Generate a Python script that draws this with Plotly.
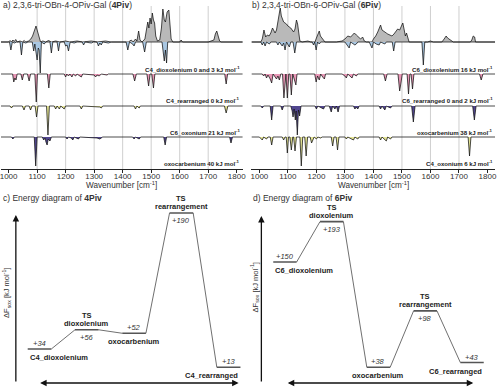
import plotly.graph_objects as go

# ---------------- data ----------------
tick_wn = [1000, 1100, 1200, 1300, 1400, 1500, 1600, 1700, 1800]
grid_wn = [1100, 1200, 1300, 1400, 1500, 1600, 1700]

# panel a: experimental IR spectrum of 4Piv (positive) and computed spectra (negative)
a_exp = [(973,0),(1000,0),(1005,1.5),(1010,0),(1015,2),(1020,0.5),(1025,2.5),(1030,0),(1040,1),(1048,0),
         (1055,1.5),(1060,0),(1070,1),(1078,3),(1084,6),(1088,10),(1092,13),(1096,16),(1100,12),(1104,7),
         (1108,2),(1112,0),(1120,1),(1130,0),(1140,1.5),(1150,0),(1165,1),(1180,0),(1200,1),(1215,0),
         (1240,1),(1260,0),(1290,1),(1310,0),(1340,1),(1360,0),(1420,0),(1430,2),(1437,0),(1445,3),
         (1450,1),(1456,11),(1461,2),(1468,0),(1478,3),(1484,12),(1488,20),(1492,14),(1496,24),(1500,18),
         (1504,29),(1508,22),(1512,19),(1516,6),(1522,1),(1530,2),(1536,14),(1541,33),(1546,22),(1550,20),
         (1556,30),(1562,32),(1566,20),(1570,3),(1576,0),(1600,0),(1605,2),(1610,0),(1700,0),(1720,2),
         (1725,8),(1730,11),(1735,6),(1740,1),(1745,0),(1830,0)]
a_dioxolenium = [(973,0),(1003,0),(1008,-8),(1013,0),(1020,-1),(1028,0),(1040,0),(1045,-13),(1050,0),(1060,-1),
                 (1068,0),(1083,0),(1088,-9),(1092,-2),(1097,-12),(1100,-18),(1104,-6),(1107,-8),(1111,-31),(1115,0),
                 (1125,-2),(1130,0),(1145,0),(1150,-11),(1155,0),(1170,0),(1175,-9),(1180,0),(1195,0),(1200,-4),
                 (1205,-3),(1210,-9),(1216,0),(1230,-1),(1240,0),(1258,0),(1263,-3),(1268,0),(1290,-1),(1298,0),
                 (1310,0),(1315,-4),(1320,-1),(1325,-3),(1330,0),(1350,-1),(1360,0),(1412,0),(1418,-8),(1424,0),
                 (1435,-2),(1440,-4),(1445,0),(1470,0),(1477,-10),(1483,0),(1538,0),(1543,-12),(1546,-19),(1550,-8),
                 (1554,-21),(1558,0),(1830,0)]
a_rearranged = [(973,0),(1014,0),(1018,-8),(1022,-4),(1026,-6),(1030,0),(1043,0),(1048,-6),(1053,0),(1066,0),
                (1072,-7),(1077,0),(1092,0),(1097,-28),(1101,0),(1136,0),(1141,-14),(1146,0),(1195,0),(1200,-3),
                (1204,0),(1210,-2),(1215,0),(1222,-3),(1227,0),(1235,-2),(1240,0),(1255,-3),(1260,0),(1300,-1),
                (1305,-3),(1310,-1),(1318,-2),(1325,0),(1345,-1),(1350,0),(1436,0),(1442,-7),(1448,0),(1485,0),
                (1491,-12),(1496,0),(1502,0),(1508,-14),(1513,0),(1758,0),(1763,-10),(1768,0),(1830,0)]
a_oxonium = [(973,0),(1005,0),(1010,-2),(1015,0),(1048,0),(1054,-4),(1059,0),(1072,0),(1077,-4),(1082,0),
             (1093,0),(1098,-11),(1103,0),(1133,0),(1138,-29),(1143,0),(1160,0),(1165,-3),(1170,0),(1178,-3),
             (1183,0),(1195,-3),(1200,0),(1250,0),(1255,-3),(1260,0),(1320,-1),(1325,-2),(1330,0),(1440,0),
             (1445,-3),(1450,0),(1458,-2),(1462,0),(1757,0),(1763,-7),(1769,0),(1830,0)]
a_oxocarbenium = [(973,0),(1010,0),(1015,-2),(1020,0),(1090,0),(1095,-29),(1100,0),(1118,0),(1123,-3),(1128,-1),
                  (1131,-5),(1135,-8),(1139,-2),(1145,-4),(1150,0),(1200,0),(1205,-2),(1210,0),(1220,-1),(1225,-3),
                  (1230,0),(1245,-2),(1250,0),(1310,-1),(1320,-2),(1330,0),(1435,0),(1440,-2),(1445,0),(1458,-2),
                  (1463,0),(1544,0),(1549,-8),(1554,0),(1775,0),(1780,-6),(1785,0),(1830,0)]

# panel b: experimental IR spectrum of 6Piv and computed spectra
b_exp = [(972,0),(1005,0),(1010,3),(1016,12),(1022,5),(1028,7),(1034,6),(1040,9),(1046,14),(1050,11),
         (1055,9),(1060,12),(1066,22),(1073,34),(1077,26),(1081,22),(1085,20),(1090,19),(1095,18),(1100,16),
         (1105,15),(1110,14),(1115,12),(1120,10),(1125,13),(1130,22),(1134,18),(1138,6),(1142,1),(1150,0),
         (1170,1),(1180,0),(1195,0),(1200,4),(1205,8),(1210,11),(1214,6),(1220,4),(1225,2),(1230,0),
         (1270,0),(1290,1),(1300,3),(1310,6),(1320,5),(1328,8),(1333,9),(1340,7),(1348,5),(1355,3),
         (1362,5),(1368,1),(1375,0),(1395,0),(1400,3),(1408,6),(1415,10),(1420,14),(1425,17),(1430,12),
         (1438,10),(1445,9),(1450,8),(1458,7),(1465,6),(1472,8),(1478,10),(1485,13),(1492,12),(1498,16),
         (1503,19),(1508,12),(1512,6),(1516,9),(1520,5),(1525,0),(1590,0),(1600,1),(1610,0),(1640,0),
         (1648,3),(1655,6),(1660,4),(1665,3),(1672,2),(1680,0),(1740,0),(1745,2),(1750,6),(1755,5),
         (1758,0),(1830,0)]
b_dioxolenium = [(972,0),(1005,0),(1010,-3),(1015,0),(1020,-4),(1025,0),(1035,-2),(1040,0),(1060,0),(1065,-3),
                 (1070,0),(1080,-4),(1085,-1),(1090,-8),(1095,0),(1100,-3),(1105,-5),(1110,0),(1118,0),(1124,-11),
                 (1130,0),(1185,0),(1190,-3),(1194,0),(1199,-8),(1204,0),(1210,-2),(1215,0),(1300,0),(1310,-4),
                 (1315,-6),(1320,0),(1330,-2),(1335,-3),(1340,-2),(1345,0),(1385,0),(1390,-3),(1395,-6),(1400,0),
                 (1410,-2),(1420,-3),(1425,0),(1440,-2),(1445,0),(1466,0),(1471,-9),(1476,0),(1570,0),(1575,-23),
                 (1580,0),(1830,0)]
b_rearranged = [(972,0),(1010,0),(1015,-2),(1020,0),(1025,-4),(1030,-1),(1038,-5),(1043,-9),(1048,0),(1055,-3),
                (1060,-5),(1065,-2),(1070,-6),(1075,0),(1081,0),(1086,-24),(1091,0),(1093,0),(1098,-24),(1103,0),
                (1107,0),(1112,-21),(1117,0),(1122,-4),(1128,-11),(1132,0),(1194,0),(1199,-8),(1204,-2),(1210,-6),
                (1215,0),(1222,-3),(1228,-5),(1232,0),(1290,0),(1300,-2),(1305,-4),(1310,0),(1318,-2),(1325,-4),
                (1330,0),(1340,-2),(1345,0),(1436,0),(1442,-7),(1448,0),(1486,0),(1492,-17),(1497,-8),(1501,0),
                (1518,0),(1523,-20),(1528,0),(1532,0),(1537,-15),(1542,0),(1772,0),(1778,-6),(1784,0),(1830,0)]
b_oxocarbenium = [(972,0),(1005,0),(1010,-2),(1015,0),(1038,0),(1043,-14),(1048,0),(1075,0),(1080,-4),(1085,0),
                  (1110,0),(1115,-5),(1118,-11),(1122,-3),(1126,-14),(1129,-5),(1133,-29),(1137,-4),(1141,-10),(1146,0),
                  (1195,0),(1200,-3),(1205,0),(1225,-3),(1230,0),(1245,0),(1252,-6),(1257,0),(1265,-3),(1270,0),
                  (1276,-6),(1281,0),(1330,0),(1335,-3),(1340,-1),(1345,-3),(1350,0),(1420,0),(1425,-3),(1430,0),
                  (1440,-4),(1445,0),(1460,-2),(1465,0),(1534,0),(1540,-16),(1546,0),(1748,0),(1754,-14),(1760,0),
                  (1830,0)]
b_oxonium = [(972,0),(1000,0),(1010,-3),(1015,0),(1025,-2),(1030,0),(1038,0),(1043,-8),(1048,0),(1080,0),
             (1085,-3),(1090,0),(1094,0),(1098,-16),(1102,0),(1107,0),(1112,-13),(1117,0),(1120,0),(1125,-14),
             (1130,0),(1142,0),(1147,-29),(1152,0),(1159,0),(1164,-19),(1169,0),(1178,0),(1183,-6),(1188,-3),
             (1192,0),(1200,-2),(1205,0),(1215,-1),(1220,0),(1252,0),(1257,-9),(1262,0),(1269,0),(1274,-13),
             (1279,0),(1300,0),(1305,-2),(1310,0),(1330,-3),(1335,0),(1345,-2),(1350,0),(1420,0),(1425,-3),
             (1430,0),(1445,-4),(1450,0),(1460,-2),(1465,0),(1732,0),(1737,-19),(1742,0),(1830,0)]

a_labels = ["C4_dioxolenium 0 and 3 kJ mol<sup>-1</sup>", "C4_rearranged 0 kJ mol<sup>-1</sup>",
            "C6_oxonium 21 kJ mol<sup>-1</sup>", "oxocarbenium 40 kJ mol<sup>-1</sup>"]
b_labels = ["C6_dioxolenium 16 kJ mol<sup>-1</sup>", "C6_rearranged 0 and 2 kJ mol<sup>-1</sup>",
            "oxocarbenium 38 kJ mol<sup>-1</sup>", "C4_oxonium 6 kJ mol<sup>-1</sup>"]

# energy diagrams (kJ/mol)
c_states = ["C4_dioxolenium", "TS<br>dioxolenium", "oxocarbenium", "TS<br>rearrangement", "C4_rearranged"]
c_energy = [34, 56, 52, 190, 13]
d_states = ["C6_dioxolenium", "TS<br>dioxolenium", "oxocarbenium", "TS<br>rearrangement", "C6_rearranged"]
d_energy = [150, 193, 38, 98, 43]

# ---------------- style ----------------
W, H = 500, 387
FONT = "Liberation Sans, Arial, sans-serif"
EXP_COL = "#b9b9b9"
COL = {"dioxolenium": "#a9c7e2", "rearranged": "#e897b6", "oxonium": "#e4e494", "oxocarbenium": "#51468f"}
ROW_OFF = [0, -32, -64, -95]


def pxx(p):
    return p / W


def pxy(p):
    return 1 - p / H


fig = go.Figure()


def add_spec(data, off, color, xa, ya):
    fig.add_trace(go.Scatter(
        x=[p[0] for p in data], y=[p[1] + off for p in data],
        mode="lines", fill="toself", fillcolor=color,
        line=dict(color="#111111", width=0.75), xaxis=xa, yaxis=ya,
        hoverinfo="skip", showlegend=False))


panels = [
    ("x", "y", a_exp, [(a_dioxolenium, "dioxolenium"), (a_rearranged, "rearranged"),
                       (a_oxonium, "oxonium"), (a_oxocarbenium, "oxocarbenium")]),
    ("x2", "y2", b_exp, [(b_dioxolenium, "dioxolenium"), (b_rearranged, "rearranged"),
                         (b_oxocarbenium, "oxocarbenium"), (b_oxonium, "oxonium")]),
]
for xa, ya, exp, rows in panels:
    add_spec(exp, ROW_OFF[0], EXP_COL, xa, ya)
    for k, (d, kind) in enumerate(rows):
        add_spec(d, ROW_OFF[k], COL[kind], xa, ya)

annotations = []
shapes = []

# gridlines
for xr in ("x", "x2"):
    for g in grid_wn:
        shapes.append(dict(type="line", xref=xr, yref=("y" if xr == "x" else "y2") + " domain",
                           x0=g, x1=g, y0=0, y1=1, line=dict(color="#cfcfcf", width=1), layer="below"))

# row labels
label_y = [69, 100, 132, 163]
for labels, xr in ((a_labels, 243.5), (b_labels, 498.5)):
    for lab, yy in zip(labels, label_y):
        annotations.append(dict(text="<b>" + lab + "</b>", x=pxx(xr), y=pxy(yy), xref="paper", yref="paper",
                                xanchor="right", yanchor="middle", showarrow=False,
                                font=dict(size=6.1, color="#222222", family=FONT)))

# x-axis titles of the spectra (placed as text just under the tick labels)
for xc in (122, 376):
    annotations.append(dict(text="Wavenumber [cm<sup>-1</sup>]", x=pxx(xc), y=pxy(185),
                            xref="paper", yref="paper", xanchor="center", yanchor="middle",
                            showarrow=False, font=dict(size=8.2, color="#333333", family=FONT)))

# panel titles
titles = [("a) 2,3,6-tri-OBn-4-OPiv-Gal (<b>4Piv</b>)", 0, 5),
          ("b) 2,3,4-tri-OBn-6-OPiv-Gal (<b>6Piv</b>)", 252, 5),
          ("c) Energy diagram of <b>4Piv</b>", 0, 198.5),
          ("d) Energy diagram of <b>6Piv</b>", 253, 198.5)]
for t, xx, yy in titles:
    annotations.append(dict(text=t, x=pxx(xx), y=pxy(yy), xref="paper", yref="paper",
                            xanchor="left", yanchor="middle", showarrow=False,
                            font=dict(size=8.5, color="#333333", family=FONT)))

# energy diagrams
for states, energy, xa, ya in ((c_states, c_energy, "x3", "y3"), (d_states, d_energy, "x4", "y4")):
    n = len(states)
    # connectors
    cx, cy = [], []
    for i in range(n - 1):
        cx += [i + 0.5, i + 1, None]
        cy += [energy[i], energy[i + 1], None]
    fig.add_trace(go.Scatter(x=cx, y=cy, mode="lines", line=dict(color="#707070", width=1),
                             xaxis=xa, yaxis=ya, hoverinfo="skip", showlegend=False))
    lx, ly = [], []
    for i in range(n):
        lx += [i, i + 0.5, None]
        ly += [energy[i], energy[i], None]
    fig.add_trace(go.Scatter(x=lx, y=ly, mode="lines", line=dict(color="#555555", width=1.6),
                             xaxis=xa, yaxis=ya, hoverinfo="skip", showlegend=False))
    for i, (s, e) in enumerate(zip(states, energy)):
        ts = s.startswith("TS")
        if i == 0:
            nx, nanch = i, "left"
        elif i == n - 1:
            nx, nanch = i + 0.5, "right"
        else:
            nx, nanch = i + 0.25, "center"
        val = dict(text="<i>+%d</i>" % e, x=i + 0.25, y=e, xref=xa, yref=ya, showarrow=False,
                   xanchor="center", font=dict(size=7.5, color="#333333", family=FONT))
        nfont = dict(size=7.5, color="#222222", family=FONT)
        if ts:
            # name lines stacked above the level (tighter line spacing than <br>)
            lines = s.split("<br>")
            for k, ln in enumerate(reversed(lines)):
                annotations.append(dict(text="<b>" + ln + "</b>", x=nx, y=e, xref=xa, yref=ya,
                                        showarrow=False, xanchor=nanch, yanchor="bottom",
                                        yshift=k * 8, font=nfont))
            val.update(yanchor="top", yshift=-1)
            annotations.append(val)
        else:
            val.update(yanchor="bottom", yshift=-1)
            annotations.append(val)
            annotations.append(dict(text="<b>" + s + "</b>", x=nx, y=e, xref=xa, yref=ya,
                                    showarrow=False, xanchor=nanch, yanchor="top", yshift=-2,
                                    font=nfont))

# axis arrows of energy diagrams
for xv, ytop, ybot in ((15, 215, 383), (263, 216, 383)):
    annotations.append(dict(x=pxx(xv), y=pxy(ytop), ax=0, ay=ybot - ytop, xref="paper", yref="paper",
                            axref="pixel", ayref="pixel", text="", showarrow=True, arrowhead=2,
                            arrowsize=1, arrowwidth=1.3, arrowcolor="#111111"))
for x0, x1, yv in ((40, 240, 383), (290, 477, 383)):
    annotations.append(dict(x=pxx(x1), y=pxy(yv), ax=x0 - x1, ay=0, xref="paper", yref="paper",
                            text="", showarrow=True, arrowhead=2, arrowside="end+start",
                            arrowsize=1, arrowwidth=1.3, arrowcolor="#111111"))
for xv, yv in ((5, 293), (256, 287)):
    annotations.append(dict(text="ΔF<sub>sox</sub> [kJ mol<sup>-1</sup>]", x=pxx(xv), y=pxy(yv),
                            xref="paper", yref="paper", textangle=-90, showarrow=False,
                            xanchor="center", yanchor="middle",
                            font=dict(size=7.5, color="#333333", family=FONT)))

spec_x = dict(tickvals=tick_wn, ticks="outside", ticklen=3, tickcolor="#222222", showline=True,
              linecolor="#222222", linewidth=1, showgrid=False, zeroline=False,
              ticklabeloverflow="allow", ticklabelstandoff=-4,
              tickfont=dict(size=8, color="#333333", family=FONT))
spec_ydom = [pxy(169), pxy(6)]
spec_y = dict(visible=False, range=[-127, 36], domain=spec_ydom, fixedrange=True)
hidden = dict(visible=False)

fig.update_layout(
    width=W, height=H, margin=dict(l=0, r=0, t=0, b=0),
    paper_bgcolor="white", plot_bgcolor="white", showlegend=False,
    font=dict(family=FONT),
    xaxis=dict(spec_x, domain=[0, pxx(244)], range=[973.3, 1820.5], anchor="y"),
    yaxis=dict(spec_y, anchor="x"),
    xaxis2=dict(spec_x, domain=[pxx(253), pxx(499)], range=[972.2, 1826.4], anchor="y2"),
    yaxis2=dict(spec_y, anchor="x2"),
    xaxis3=dict(hidden, domain=[0, 0.5], range=[-0.565, 4.670], anchor="y3"),
    yaxis3=dict(hidden, domain=[0, pxy(190)], range=[-9.6, 216.3], anchor="x3"),
    xaxis4=dict(hidden, domain=[0.5, 1.0], range=[-0.529, 4.762], anchor="y4"),
    yaxis4=dict(hidden, domain=[0, pxy(190)], range=[17.0, 226.6], anchor="x4"),
    annotations=annotations, shapes=shapes,
)

fig.write_html("out.html", config={"displayModeBar": False},
               post_script="document.body.style.margin='0';document.body.style.padding='0';")
